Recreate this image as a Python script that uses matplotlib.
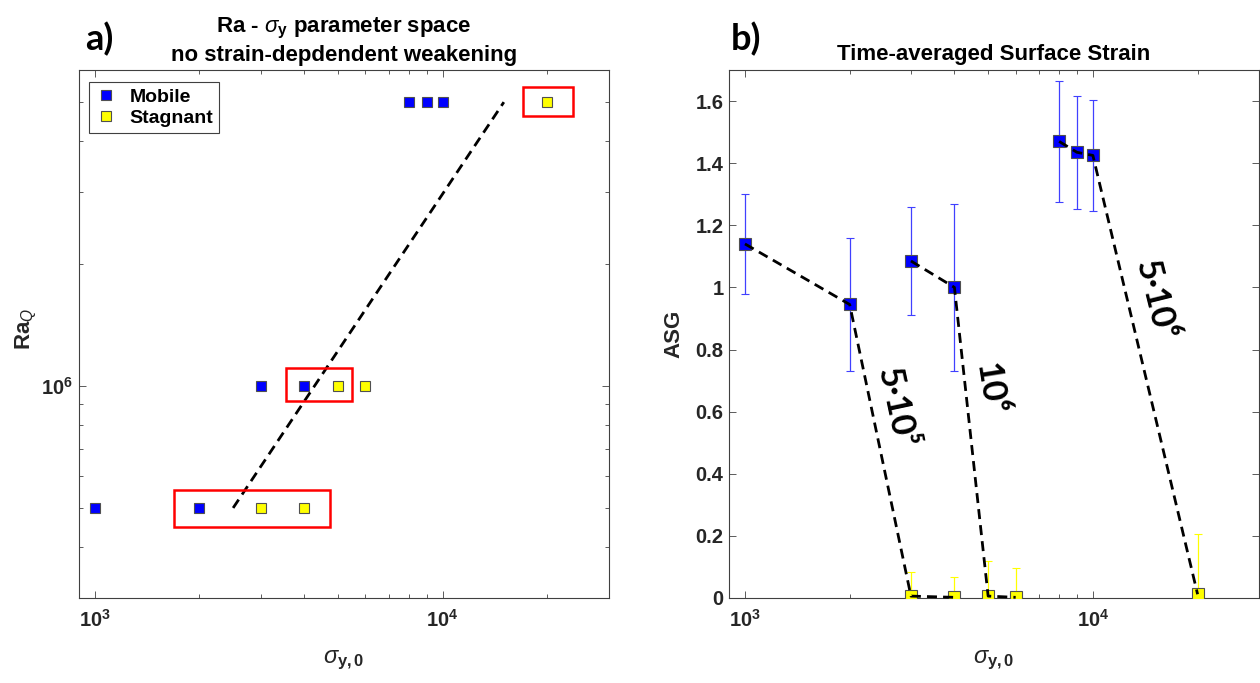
import numpy as np
import matplotlib
matplotlib.use("Agg")
import matplotlib.pyplot as plt
from matplotlib.patches import Rectangle
from matplotlib.ticker import NullFormatter, LogLocator, FixedLocator

# ---------------- data ----------------
sigma_mobile = [1000, 2000, 3000, 4000, 8000, 9000, 10000]
ra_mobile = [5e5, 5e5, 1e6, 1e6, 5e6, 5e6, 5e6]
asg_mobile = [1.14, 0.945, 1.085, 1.00, 1.47, 1.435, 1.425]
asg_mobile_err = [0.162, 0.215, 0.174, 0.268, 0.196, 0.182, 0.178]

sigma_stag = [3000, 4000, 5000, 6000, 20000]
ra_stag = [5e5, 5e5, 1e6, 1e6, 5e6]
asg_stag = [0.006, 0.002, 0.006, 0.002, 0.012]
asg_stag_err = [0.079, 0.064, 0.114, 0.093, 0.193]

# regime boundary in panel a
boundary_sigma = [2500, 15000]
boundary_ra = [5e5, 5e6]

# highlighted boxes in panel a: (sigma_min, sigma_max, ra_min, ra_max)
boxes = [(1690, 4740, 4.5e5, 5.53e5),
         (3556, 5480, 9.17e5, 1.106e6),
         (17080, 23700, 4.61e6, 5.45e6)]

# Ra group labels in panel b
ra_groups = [5e5, 1e6, 5e6]
ra_group_labels = ['5·10⁵', '10⁶', '5·10⁶']
ra_label_pos = [(2716, 0.611), (5059, 0.672), (15070, 0.958)]
ra_label_rot = [-78, -81, -76]

xticks = [1e3, 1e4]
asg_ticks = [0, 0.2, 0.4, 0.6, 0.8, 1.0, 1.2, 1.4, 1.6]

# ---------------- style ----------------
plt.rcParams['font.family'] = ['Liberation Sans', 'DejaVu Sans']
plt.rcParams['mathtext.fontset'] = 'custom'
plt.rcParams['mathtext.rm'] = 'Liberation Sans:bold'
plt.rcParams['mathtext.it'] = 'Liberation Sans:italic'
plt.rcParams['mathtext.bf'] = 'Liberation Sans:bold'

BLUE = '#0000ff'
YELLOW = '#ffff00'
EDGE = '#505050'
AXC = '#404040'
TXT = '#262626'
TICKFS = 14.5
LABFS = 16
TITFS = 16

fig = plt.figure(figsize=(12.6, 6.83), dpi=100)
ax1 = fig.add_axes([0.0625, 0.1245, 0.4205, 0.773])
ax2 = fig.add_axes([0.5786, 0.1245, 0.4205, 0.773])


def style_axes(ax):
    for s in ax.spines.values():
        s.set_color(AXC)
        s.set_linewidth(0.8)
    ax.tick_params(which='both', direction='in', top=True, right=True,
                   color=AXC, width=0.6, labelcolor=TXT, labelsize=TICKFS)
    ax.tick_params(which='major', length=5)
    ax.tick_params(which='minor', length=3)
    ax.tick_params(axis='x', pad=8)
    ax.tick_params(axis='y', pad=4)


def pow_label(v):
    return '$\\mathbf{10^{%d}}$' % int(round(np.log10(v)))


# ---------------- panel a ----------------
ax1.set_xscale('log')
ax1.set_yscale('log')
ax1.set_xlim(900, 3e4)
ax1.set_ylim(3e5, 6e6)

ax1.plot(boundary_sigma, boundary_ra, color='black', lw=2.0,
         ls=(0, (3.6, 2.2)), zorder=2)
ax1.plot(sigma_mobile, ra_mobile, 's', ls='none', color=BLUE, mec=EDGE,
         mew=0.8, ms=7.5, label='Mobile', zorder=3)
ax1.plot(sigma_stag, ra_stag, 's', ls='none', color=YELLOW, mec=EDGE,
         mew=0.8, ms=7.5, label='Stagnant', zorder=3)
for (x0, x1, y0, y1) in boxes:
    ax1.add_patch(Rectangle((x0, y0), x1 - x0, y1 - y0, fill=False,
                            edgecolor='#ff0000', lw=1.8, zorder=4))

style_axes(ax1)
ax1.xaxis.set_major_locator(FixedLocator(xticks))
ax1.set_xticklabels([pow_label(v) for v in xticks])
ax1.xaxis.set_minor_locator(LogLocator(base=10, subs=np.arange(2, 10)))
ax1.xaxis.set_minor_formatter(NullFormatter())
ax1.yaxis.set_major_locator(FixedLocator([1e6]))
ax1.set_yticklabels([pow_label(1e6)])
ax1.yaxis.set_minor_locator(LogLocator(base=10, subs=np.arange(2, 10)))
ax1.yaxis.set_minor_formatter(NullFormatter())

ax1.set_xlabel('$\\sigma_{\\mathbf{y,0}}$', fontsize=LABFS + 1, color=TXT)
ax1.xaxis.set_label_coords(0.5, -0.096)
ax1.set_ylabel('Ra$_{Q}$', fontsize=LABFS, fontweight='bold', color=TXT)
ax1.yaxis.set_label_coords(-0.075, 0.51)

ax1.text(0.5, 1.072, 'Ra - $\\sigma_{\\mathbf{y}}$ parameter space',
         transform=ax1.transAxes, ha='center', va='baseline',
         fontsize=TITFS, fontweight='bold', color='black')
ax1.text(0.5, 1.017, 'no strain-depdendent weakening',
         transform=ax1.transAxes, ha='center', va='baseline',
         fontsize=TITFS, fontweight='bold', color='black')

leg = ax1.legend(loc='upper left', bbox_to_anchor=(0.019, 0.977),
                 borderaxespad=0, fancybox=False, framealpha=1,
                 edgecolor=AXC, prop={'weight': 'bold', 'size': 14},
                 handlelength=1.2, handletextpad=0.6, borderpad=0.3,
                 labelspacing=0.2)
leg.get_frame().set_linewidth(0.8)

# ---------------- panel b ----------------
ax2.set_xscale('log')
ax2.set_xlim(900, 3e4)
ax2.set_ylim(0, 1.7)

ax2.errorbar(sigma_mobile, asg_mobile, yerr=asg_mobile_err, fmt='s',
             color=BLUE, mfc=BLUE, mec=EDGE, mew=0.8, ms=8,
             ecolor='#4040ff', elinewidth=0.9, capsize=3, capthick=0.9,
             zorder=3)
ax2.errorbar(sigma_stag, asg_stag, yerr=asg_stag_err, fmt='s',
             color=YELLOW, mfc=YELLOW, mec=EDGE, mew=0.8, ms=8,
             ecolor=YELLOW, elinewidth=0.9, capsize=3, capthick=0.9,
             zorder=3)

all_sigma = np.array(sigma_mobile + sigma_stag, dtype=float)
all_ra = np.array(ra_mobile + ra_stag, dtype=float)
all_asg = np.array(asg_mobile + asg_stag, dtype=float)
for ra in ra_groups:
    m = all_ra == ra
    order = np.argsort(all_sigma[m])
    ax2.plot(all_sigma[m][order], all_asg[m][order], color='black', lw=2.0,
             ls=(0, (3.6, 2.2)), zorder=4, clip_on=False)

for lab, (x, y), rot in zip(ra_group_labels, ra_label_pos, ra_label_rot):
    ax2.text(x, y, lab, rotation=rot, rotation_mode='anchor', ha='center',
             va='center', fontsize=25, fontweight='bold',
             family=['Lato', 'DejaVu Sans'], color='black', zorder=5)

style_axes(ax2)
ax2.xaxis.set_major_locator(FixedLocator(xticks))
ax2.set_xticklabels([pow_label(v) for v in xticks])
ax2.xaxis.set_minor_locator(LogLocator(base=10, subs=np.arange(2, 10)))
ax2.xaxis.set_minor_formatter(NullFormatter())
ax2.set_yticks(asg_ticks)
ax2.set_yticklabels(['%g' % v for v in asg_ticks], fontweight='bold')

ax2.set_xlabel('$\\sigma_{\\mathbf{y,0}}$', fontsize=LABFS + 1, color=TXT)
ax2.xaxis.set_label_coords(0.5, -0.096)
ax2.set_ylabel('ASG', fontsize=LABFS, fontweight='bold', color=TXT)
ax2.yaxis.set_label_coords(-0.085, 0.5)

ax2.text(0.5, 1.019, 'Time-averaged Surface Strain',
         transform=ax2.transAxes, ha='center', va='baseline',
         fontsize=TITFS, fontweight='bold', color='black')

# panel letters
fig.text(85 / 1260, 1 - 50 / 683, 'a)', fontsize=26, fontweight='bold',
         family=['Lato', 'DejaVu Sans'], va='baseline', ha='left')
fig.text(731 / 1260, 1 - 50 / 683, 'b)', fontsize=26, fontweight='bold',
         family=['Lato', 'DejaVu Sans'], va='baseline', ha='left')

fig.savefig('out.png', dpi=100)
